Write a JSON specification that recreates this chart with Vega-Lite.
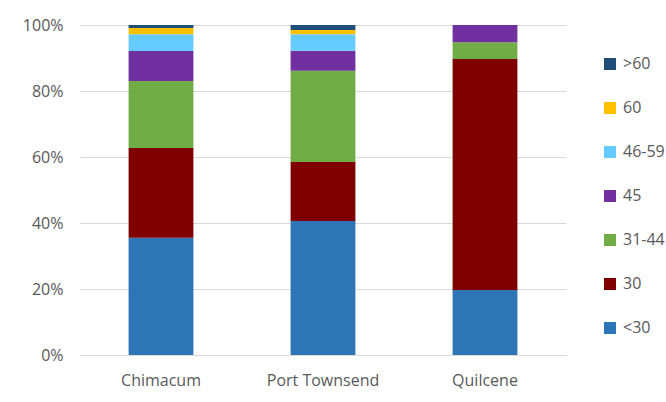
{
  "$schema": "https://vega.github.io/schema/vega-lite/v6.json",
  "autosize": "none",
  "width": 486,
  "height": 330,
  "padding": {"left": 80, "top": 25, "right": 100, "bottom": 47},
  "background": "white",
  "config": {
    "font": "Open Sans",
    "view": {"stroke": null},
    "axis": {"labelColor": "#595959", "labelFontSize": 16, "labelFont": "Open Sans", "ticks": false, "title": null}
  },
  "data": {
    "values": [
      {"site": "Chimacum", "age": "<30", "k": 1, "v": 35.5},
      {"site": "Chimacum", "age": "30", "k": 2, "v": 27.2},
      {"site": "Chimacum", "age": "31-44", "k": 3, "v": 20.3},
      {"site": "Chimacum", "age": "45", "k": 4, "v": 9.1},
      {"site": "Chimacum", "age": "46-59", "k": 5, "v": 5.1},
      {"site": "Chimacum", "age": "60", "k": 6, "v": 1.9},
      {"site": "Chimacum", "age": ">60", "k": 7, "v": 0.9},
      {"site": "Port Townsend", "age": "<30", "k": 1, "v": 40.6},
      {"site": "Port Townsend", "age": "30", "k": 2, "v": 17.9},
      {"site": "Port Townsend", "age": "31-44", "k": 3, "v": 27.6},
      {"site": "Port Townsend", "age": "45", "k": 4, "v": 6.1},
      {"site": "Port Townsend", "age": "46-59", "k": 5, "v": 5.0},
      {"site": "Port Townsend", "age": "60", "k": 6, "v": 1.3},
      {"site": "Port Townsend", "age": ">60", "k": 7, "v": 1.5},
      {"site": "Quilcene", "age": "<30", "k": 1, "v": 19.7},
      {"site": "Quilcene", "age": "30", "k": 2, "v": 70.0},
      {"site": "Quilcene", "age": "31-44", "k": 3, "v": 5.1},
      {"site": "Quilcene", "age": "45", "k": 4, "v": 5.2},
      {"site": "Quilcene", "age": "46-59", "k": 5, "v": 0},
      {"site": "Quilcene", "age": "60", "k": 6, "v": 0},
      {"site": "Quilcene", "age": ">60", "k": 7, "v": 0}
    ]
  },
  "mark": {"type": "bar"},
  "encoding": {
    "x": {
      "field": "site", "type": "nominal", "sort": null,
      "scale": {"paddingInner": 0.6, "paddingOuter": 0.3},
      "axis": {"labelAngle": 0, "domainColor": "#d9d9d9", "labelPadding": 17, "grid": false}
    },
    "y": {
      "field": "v", "type": "quantitative", "stack": "normalize",
      "scale": {"domain": [0, 1]},
      "axis": {"format": ".0%", "values": [0, 0.2, 0.4, 0.6, 0.8, 1], "domain": false, "gridColor": "#d9d9d9", "labelPadding": 17}
    },
    "order": {"field": "k", "sort": "ascending"},
    "color": {
      "field": "age", "type": "nominal",
      "scale": {
        "domain": [">60", "60", "46-59", "45", "31-44", "30", "<30"],
        "range": ["#1F4E79", "#FFC000", "#66CCFF", "#7030A0", "#70AD47", "#800000", "#2E75B6"]
      },
      "legend": {
        "title": null, "orient": "none", "legendX": 522, "legendY": 31,
        "symbolType": "square", "symbolSize": 144, "symbolStrokeWidth": 0,
        "labelFontSize": 16, "labelColor": "#595959", "rowPadding": 28, "labelOffset": 5
      }
    }
  }
}
